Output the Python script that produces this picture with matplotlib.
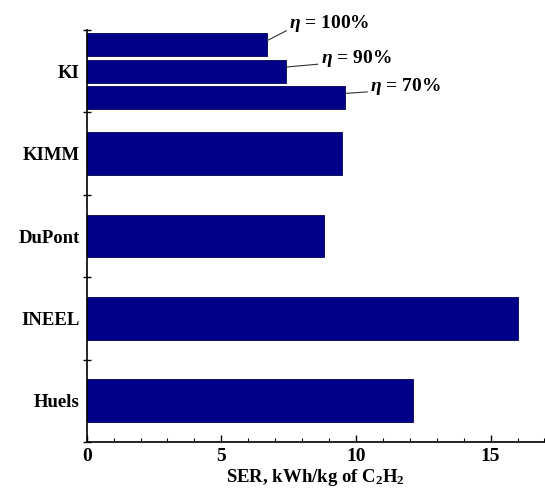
import numpy as np
import matplotlib
matplotlib.use('Agg')
import matplotlib.pyplot as plt
from matplotlib.ticker import MultipleLocator, FixedLocator

plt.rcParams['font.family'] = ['Liberation Serif', 'DejaVu Serif']
plt.rcParams['font.weight'] = 'bold'
plt.rcParams['mathtext.fontset'] = 'custom'
plt.rcParams['mathtext.rm'] = 'Liberation Serif:bold'
plt.rcParams['mathtext.bf'] = 'Liberation Serif:bold'
plt.rcParams['mathtext.it'] = 'Liberation Serif:italic:bold'

# data
categories = ['KI', 'KIMM', 'DuPont', 'INEEL', 'Huels']
ser_values = [None, 9.5, 8.8, 16.0, 12.1]     # single bars
ki_values  = [6.7, 7.4, 9.6]                  # KI at eta = 100, 90, 70 %
ki_labels  = [r'$\eta$ = 100%', r'$\eta$ = 90%', r'$\eta$ = 70%']

bar_col = '#000088'
ypos = np.arange(len(categories))[::-1]   # KI on top

fig = plt.figure(figsize=(5.45, 4.99), dpi=100)
ax = fig.add_axes([0.159, 0.114, 0.840, 0.826])

# single bars
for y, v in zip(ypos[1:], ser_values[1:]):
    ax.barh(y, v, height=0.52, color=bar_col, edgecolor='#000050', linewidth=0.6)

# KI group
offsets = [0.32, 0.0, -0.32]
label_offsets = [(16, 12), (25, 6), (18, 5)]
for v, off, lab, lo in zip(ki_values, offsets, ki_labels, label_offsets):
    yk = ypos[0] + off
    ax.barh(yk, v, height=0.28, color=bar_col, edgecolor='#000050', linewidth=0.6)
    ax.annotate(lab, xy=(v, yk + 0.05), xytext=lo, textcoords='offset points',
                ha='left', va='center', fontsize=14, fontweight='bold',
                annotation_clip=False,
                arrowprops=dict(arrowstyle='-', color='#333333', lw=0.8,
                                relpos=(0.0, 0.25), shrinkA=0, shrinkB=0))

ax.set_xlim(0, 17)
ax.set_ylim(-0.5, 4.5)

ax.xaxis.set_major_locator(MultipleLocator(5))
ax.xaxis.set_minor_locator(MultipleLocator(1))
ax.tick_params(axis='x', which='major', direction='in', length=5, width=1, labelsize=14, pad=4)
ax.tick_params(axis='x', which='minor', direction='in', length=3, width=0.8)

ax.set_yticks(ypos)
ax.set_yticklabels(categories)
ax.yaxis.set_minor_locator(FixedLocator(np.arange(-0.5, 5.0, 1.0)))
ax.tick_params(axis='y', which='major', length=0, labelsize=13.5, pad=5)
ax.tick_params(axis='y', which='minor', direction='inout', length=6, width=1)

for lbl in ax.get_xticklabels() + ax.get_yticklabels():
    lbl.set_fontweight('bold')

ax.spines['right'].set_visible(False)
ax.spines['top'].set_visible(False)
ax.spines['left'].set_linewidth(1.2)
ax.spines['bottom'].set_linewidth(1.2)

ax.set_xlabel(r'SER, kWh/kg of C$_2$H$_2$', fontsize=13.5, fontweight='bold', labelpad=2)

plt.savefig('out.png', dpi=100)
